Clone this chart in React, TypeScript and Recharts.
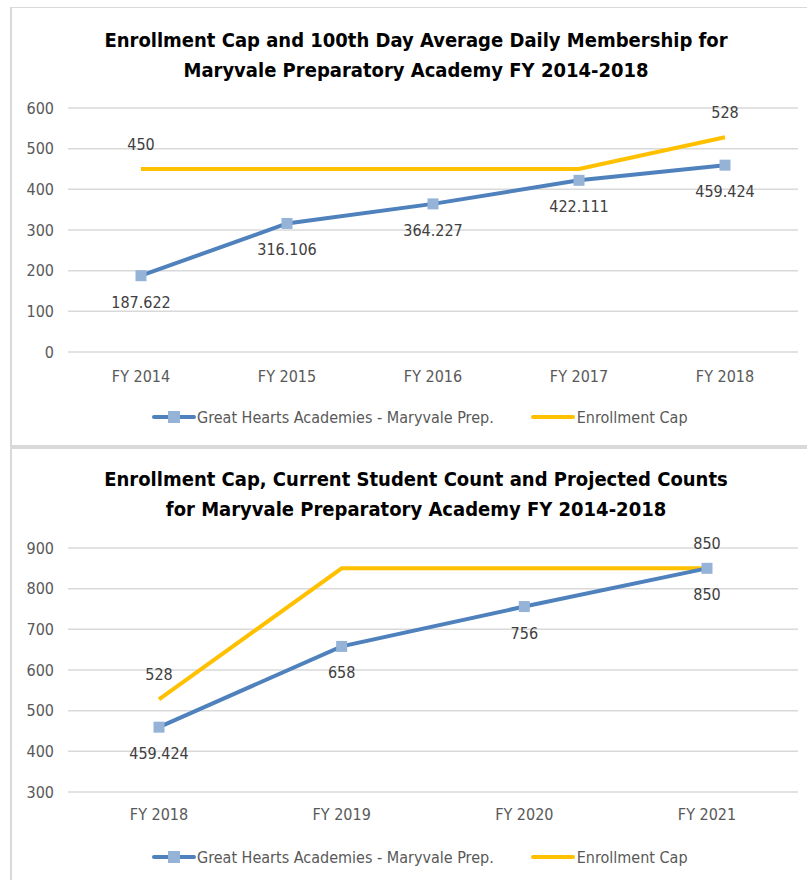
import { LineChart, Line, XAxis, YAxis, CartesianGrid, Legend } from "recharts";

const topYears = ["FY 2014", "FY 2015", "FY 2016", "FY 2017", "FY 2018"];
const topMembership = [187.622, 316.106, 364.227, 422.111, 459.424];
const topCap = [450, 450, 450, 450, 528];
const topTicks = [0, 100, 200, 300, 400, 500, 600];

const bottomYears = ["FY 2018", "FY 2019", "FY 2020", "FY 2021"];
const bottomCounts = [459.424, 658, 756, 850];
const bottomCap = [528, 850, 850, 850];
const bottomTicks = [300, 400, 500, 600, 700, 800, 900];

const SCHOOL = "Great Hearts Academies - Maryvale Prep.";
const CAP = "Enrollment Cap";

const FONT = "'Liberation Sans Narrow', 'DejaVu Sans Condensed', Arial, sans-serif";
const BLUE = "#4F81BD";
const MARKER = "#95B3D7";
const GOLD = "#FFC000";

const topData = topYears.map((year, i) => ({ year, school: topMembership[i], cap: topCap[i] }));
const bottomData = bottomYears.map((year, i) => ({ year, school: bottomCounts[i], cap: bottomCap[i] }));

function SquareDot(props: any) {
  const { cx, cy } = props;
  if (cx == null || cy == null) return null;
  return <rect x={cx - 5.5} y={cy - 5.5} width={11} height={11} fill={MARKER} />;
}

function belowLabel(props: any) {
  const { x, y, value } = props;
  return (
    <text x={x} y={y + 32} textAnchor="middle" fontSize={16} fill="#404040" fontFamily={FONT}>
      {value}
    </text>
  );
}

// Excel only labelled the first and last points of the cap line
function capLabel(last: number) {
  return (props: any) => {
    const { x, y, value, index } = props;
    if (index !== 0 && index !== last) return null;
    return (
      <text x={x} y={y - 19} textAnchor="middle" fontSize={16} fill="#404040" fontFamily={FONT}>
        {value}
      </text>
    );
  };
}

function LegendRow() {
  return (
    <div style={{ display: "flex", alignItems: "center", height: 20, fontFamily: FONT, fontSize: 16, color: "#595959", whiteSpace: "nowrap" }}>
      <svg width={44} height={14} style={{ marginLeft: 144, marginRight: 1 }}>
        <line x1={2} y1={7} x2={42} y2={7} stroke={BLUE} strokeWidth={4} strokeLinecap="round" />
        <rect x={16} y={1} width={12} height={12} fill={MARKER} />
      </svg>
      <span>{SCHOOL}</span>
      <svg width={44} height={14} style={{ marginLeft: 37, marginRight: 2 }}>
        <line x1={2} y1={7} x2={42} y2={7} stroke={GOLD} strokeWidth={4} strokeLinecap="round" />
      </svg>
      <span>{CAP}</span>
    </div>
  );
}

const axisTick = { fill: "#595959", fontSize: 16, fontFamily: FONT };

function Title({ lines, top }: { lines: string[]; top: number }) {
  return (
    <div
      style={{
        position: "absolute",
        top,
        left: 16,
        width: 800,
        textAlign: "center",
        fontFamily: FONT,
        fontWeight: "bold",
        fontSize: 20,
        lineHeight: "30px",
        color: "#000",
      }}
    >
      {lines.map((l) => (
        <div key={l}>{l}</div>
      ))}
    </div>
  );
}

export default function App() {
  return (
    <div style={{ position: "absolute", left: 0, top: 0, width: 807, height: 880, background: "#fff", overflow: "hidden" }}>
      {/* panel frames */}
      <div style={{ position: "absolute", left: 10, top: 7, width: 797, height: 438, borderLeft: "2px solid #D9D9D9", borderTop: "1px solid #D9D9D9" }} />
      <div style={{ position: "absolute", left: 10, top: 445, width: 797, height: 4, background: "#D9D9D9" }} />
      <div style={{ position: "absolute", left: 10, top: 449, width: 2, height: 431, background: "#D9D9D9" }} />

      <Title top={25} lines={["Enrollment Cap and 100th Day Average Daily Membership for", "Maryvale Preparatory Academy FY 2014-2018"]} />
      <div style={{ position: "absolute", left: 0, top: 0 }}>
        <LineChart width={807} height={443} data={topData} margin={{ top: 108, right: 9, bottom: 16, left: 8 }}>
          <CartesianGrid vertical={false} stroke="#D9D9D9" strokeWidth={1.5} />
          <XAxis dataKey="year" height={55} axisLine={false} tickLine={false} tick={axisTick} tickMargin={13} padding={{ left: 73, right: 73 }} />
          <YAxis width={60} domain={[0, 600]} ticks={topTicks} axisLine={false} tickLine={false} tick={axisTick} tickMargin={8} />
          <Legend verticalAlign="bottom" content={() => <LegendRow />} />
          <Line dataKey="school" name={SCHOOL} stroke={BLUE} strokeWidth={4} dot={<SquareDot />} activeDot={false} label={belowLabel} isAnimationActive={false} />
          <Line dataKey="cap" name={CAP} stroke={GOLD} strokeWidth={4} dot={false} activeDot={false} label={capLabel(topData.length - 1)} isAnimationActive={false} />
        </LineChart>
      </div>

      <Title top={464} lines={["Enrollment Cap, Current Student Count and Projected Counts", "for Maryvale Preparatory Academy FY 2014-2018"]} />
      <div style={{ position: "absolute", left: 0, top: 448 }}>
        <LineChart width={807} height={432} data={bottomData} margin={{ top: 100, right: 9, bottom: 13, left: 8 }}>
          <CartesianGrid vertical={false} stroke="#D9D9D9" strokeWidth={1.5} />
          <XAxis dataKey="year" height={55} axisLine={false} tickLine={false} tick={axisTick} tickMargin={11} padding={{ left: 91, right: 91 }} />
          <YAxis width={60} domain={[300, 900]} ticks={bottomTicks} axisLine={false} tickLine={false} tick={axisTick} tickMargin={8} />
          <Legend verticalAlign="bottom" content={() => <LegendRow />} />
          <Line dataKey="cap" name={CAP} stroke={GOLD} strokeWidth={4} dot={false} activeDot={false} label={capLabel(bottomData.length - 1)} isAnimationActive={false} />
          <Line dataKey="school" name={SCHOOL} stroke={BLUE} strokeWidth={4} dot={<SquareDot />} activeDot={false} label={belowLabel} isAnimationActive={false} />
        </LineChart>
      </div>
    </div>
  );
}
